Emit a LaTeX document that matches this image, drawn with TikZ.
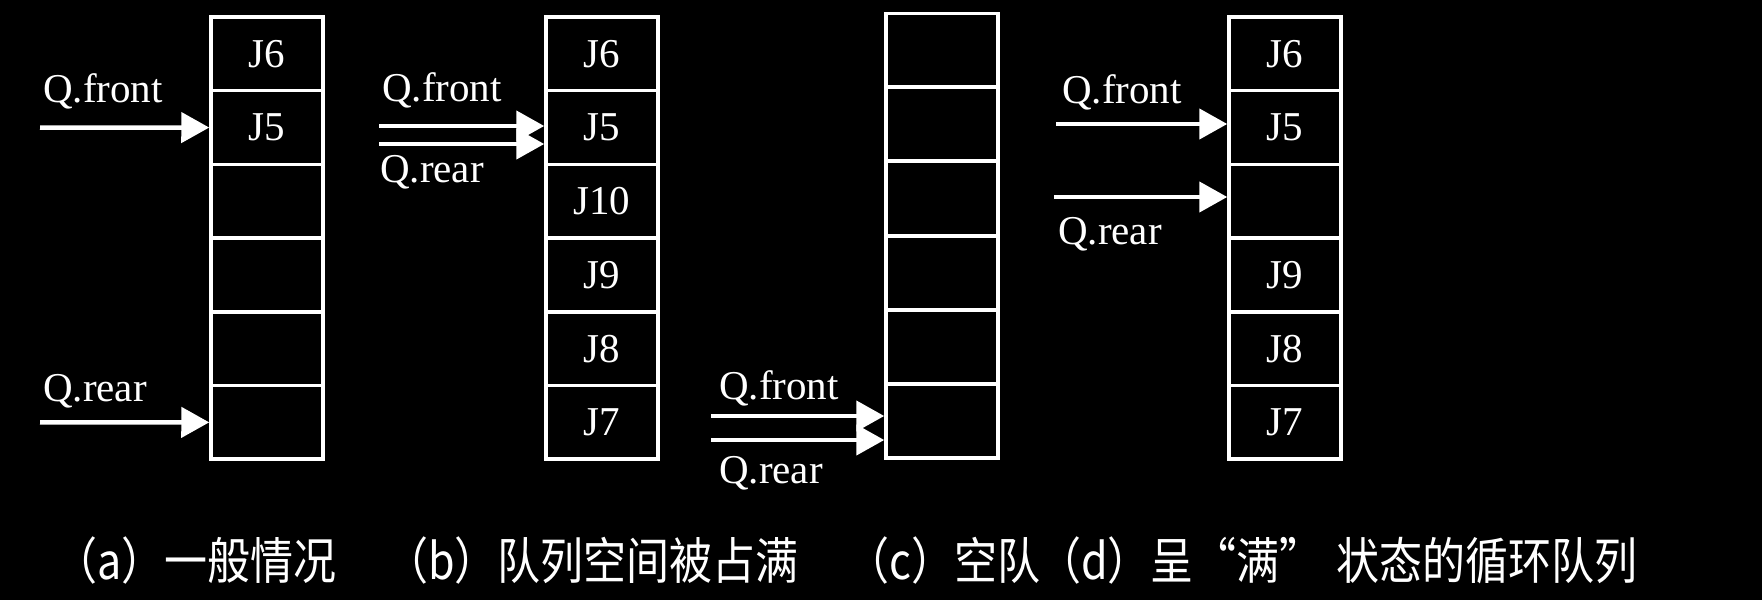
\documentclass[tikz,border=0pt]{standalone}
\usepackage{fontspec}
\setmainfont{Liberation Serif}
\newfontfamily\cjk[FakeStretch=0.86]{Noto Sans CJK SC}
\usetikzlibrary{arrows.meta}
\begin{document}
\begin{tikzpicture}[x=1pt,y=-1pt,
  cell/.style={draw=white,line width=3.5pt,minimum width=112pt,minimum height=73.7pt,inner sep=0pt,text=white,font=\fontsize{41}{48}\selectfont},
  ptr/.style={draw=white,line width=4.5pt,-{Triangle[length=28pt,width=30pt]}},
  lab/.style={text=white,anchor=base west,inner sep=0pt,font=\fontsize{41}{48}\selectfont},
  captext/.style={text=white,anchor=base west,inner sep=0pt,font=\cjk\fontsize{50}{56}\selectfont}]
\fill[black] (0,0) rectangle (1762,600);
\useasboundingbox (0,0) rectangle (1762,600);
% columns
\foreach \t [count=\i] in {J6,J5,{},{},{},{}}
  \node[cell] (a\i) at (267,{17+(\i-0.5)*73.7}) {\t};
\foreach \t [count=\i] in {J6,J5,J10,J9,J8,J7}
  \node[cell] (b\i) at (602,{17+(\i-0.5)*73.7}) {\t};
\foreach \t [count=\i] in {{},{},{},{},{},{}}
  \node[cell] (c\i) at (942,{13+(\i-0.5)*74.2}) {\t};
\foreach \t [count=\i] in {J6,J5,{},J9,J8,J7}
  \node[cell] (d\i) at (1285,{17+(\i-0.5)*73.7}) {\t};
% (a)
\node[lab] (afl) at (43,102) {Q.front};
\node[lab] (arl) at (43,401) {Q.rear};
\coordinate (afs) at (40,127.5);
\coordinate (ars) at (40,422.3);
\draw[ptr] (afs) -- (a2.west);
\draw[ptr] (ars) -- (a6.west);
% (b)
\node[lab] (bfl) at (382,101) {Q.front};
\node[lab] (brl) at (380,182) {Q.rear};
\coordinate (bfs) at (379,126);
\coordinate (brs) at (379,144);
\draw[ptr] (bfs) -- (bfs -| b2.west);
\draw[ptr] (brs) -- (brs -| b2.west);
% (c)
\node[lab] (cfl) at (719,399) {Q.front};
\node[lab] (crl) at (719,483) {Q.rear};
\coordinate (cfs) at (711,416);
\coordinate (crs) at (711,440);
\draw[ptr] (cfs) -- (cfs -| c6.west);
\draw[ptr] (crs) -- (crs -| c6.west);
% (d)
\node[lab] (dfl) at (1062,103) {Q.front};
\node[lab] (drl) at (1058,244) {Q.rear};
\coordinate (dfs) at (1056,124);
\coordinate (drs) at (1054,197);
\draw[ptr] (dfs) -- (dfs -| d2.west);
\draw[ptr] (drs) -- (drs -| d3.west);
% captions
\node[captext] (capa) at (54,579) {（a）一般情况};
\node[captext] (capb) at (385,579) {（b）队列空间被占满};
\node[captext] (capc) at (846,579) {（c）空队};
\node[captext] (capd) at (1038,579) {（d）呈“满”\kern14pt 状态的循环队列};
\end{tikzpicture}
\end{document}
